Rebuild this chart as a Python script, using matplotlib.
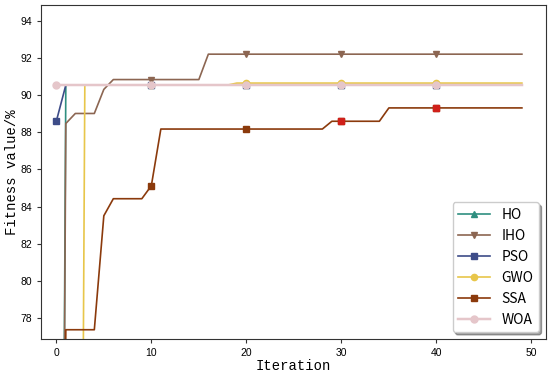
import matplotlib.pyplot as plt

# Data (iterations 0..49)
iterations = list(range(50))

ho = [0.0, 90.55, 90.55, 90.55, 90.55, 90.55, 90.55, 90.55, 90.55, 90.55,
      90.55, 90.55, 90.55, 90.55, 90.55, 90.55, 90.55, 90.55, 90.55, 90.55,
      90.55, 90.55, 90.55, 90.55, 90.55, 90.55, 90.55, 90.55, 90.55, 90.55,
      90.55, 90.55, 90.55, 90.55, 90.55, 90.55, 90.55, 90.55, 90.55, 90.55,
      90.55, 90.55, 90.55, 90.55, 90.55, 90.55, 90.55, 90.55, 90.55, 90.55]
iho = [0.0, 88.48, 89.02, 89.02, 89.02, 90.32, 90.85, 90.85, 90.85, 90.85,
       90.85, 90.85, 90.85, 90.85, 90.85, 90.85, 92.22, 92.22, 92.22, 92.22,
       92.22, 92.22, 92.22, 92.22, 92.22, 92.22, 92.22, 92.22, 92.22, 92.22,
       92.22, 92.22, 92.22, 92.22, 92.22, 92.22, 92.22, 92.22, 92.22, 92.22,
       92.22, 92.22, 92.22, 92.22, 92.22, 92.22, 92.22, 92.22, 92.22, 92.22]
pso = [88.6, 90.55, 90.55, 90.55, 90.55, 90.55, 90.55, 90.55, 90.55, 90.55,
       90.55, 90.55, 90.55, 90.55, 90.55, 90.55, 90.55, 90.55, 90.55, 90.55,
       90.55, 90.55, 90.55, 90.55, 90.55, 90.55, 90.55, 90.55, 90.55, 90.55,
       90.55, 90.55, 90.55, 90.55, 90.55, 90.55, 90.55, 90.55, 90.55, 90.55,
       90.55, 90.55, 90.55, 90.55, 90.55, 90.55, 90.55, 90.55, 90.55, 90.55]
gwo = [0.0, 0.0, 0.0, 90.55, 90.55, 90.55, 90.55, 90.55, 90.55, 90.55,
       90.55, 90.55, 90.55, 90.55, 90.55, 90.55, 90.55, 90.55, 90.55, 90.66,
       90.66, 90.66, 90.66, 90.66, 90.66, 90.66, 90.66, 90.66, 90.66, 90.66,
       90.66, 90.66, 90.66, 90.66, 90.66, 90.66, 90.66, 90.66, 90.66, 90.66,
       90.66, 90.66, 90.66, 90.66, 90.66, 90.66, 90.66, 90.66, 90.66, 90.66]
ssa = [0.0, 77.35, 77.35, 77.35, 77.35, 83.5, 84.42, 84.42, 84.42, 84.42,
       85.12, 88.18, 88.18, 88.18, 88.18, 88.18, 88.18, 88.18, 88.18, 88.18,
       88.18, 88.18, 88.18, 88.18, 88.18, 88.18, 88.18, 88.18, 88.18, 88.6,
       88.6, 88.6, 88.6, 88.6, 88.6, 89.32, 89.32, 89.32, 89.32, 89.32,
       89.32, 89.32, 89.32, 89.32, 89.32, 89.32, 89.32, 89.32, 89.32, 89.32]
woa = [90.55, 90.55, 90.55, 90.55, 90.55, 90.55, 90.55, 90.55, 90.55, 90.55,
       90.55, 90.55, 90.55, 90.55, 90.55, 90.55, 90.55, 90.55, 90.55, 90.55,
       90.55, 90.55, 90.55, 90.55, 90.55, 90.55, 90.55, 90.55, 90.55, 90.55,
       90.55, 90.55, 90.55, 90.55, 90.55, 90.55, 90.55, 90.55, 90.55, 90.55,
       90.55, 90.55, 90.55, 90.55, 90.55, 90.55, 90.55, 90.55, 90.55, 90.55]

fig = plt.figure(figsize=(5.5, 3.76), dpi=100)
ax = fig.add_axes([0.0751, 0.0984, 0.917, 0.8896])

lw = 1.2
ms = 4.5
ax.plot(iterations, ho, color='#2f8f80', marker='^', markevery=10, lw=lw, ms=ms, label='HO')
ax.plot(iterations, iho, color='#8c6652', marker='v', markevery=10, lw=lw, ms=ms, label='IHO')
ax.plot(iterations, pso, color='#3d4c88', marker='s', markevery=10, lw=lw, ms=ms + 0.5, label='PSO')
ax.plot(iterations, gwo, color='#e8c64a', marker='o', markevery=10, lw=lw, ms=ms, label='GWO')
ax.plot(iterations, ssa, color='#8b3a0c', marker='s', markevery=10, lw=lw, ms=ms + 0.5, label='SSA')
# later SSA markers appear red in the reference
ax.plot(iterations[30::10], ssa[30::10], ls='none', marker='s', ms=ms + 0.5,
        color='#d0201a')
ax.plot(iterations, woa, color='#e5c6ca', marker='o', markevery=10, lw=lw + 0.6, ms=ms + 0.5, label='WOA')

ax.set_xlim(-1.58, 51.5)
ax.set_ylim(76.85, 94.9)
ax.set_xticks([0, 10, 20, 30, 40, 50])
ax.set_yticks([78, 80, 82, 84, 86, 88, 90, 92, 94])
ax.tick_params(labelsize=7.5, length=3, color='#333333')
for lab in ax.get_xticklabels() + ax.get_yticklabels():
    lab.set_family('Liberation Sans')
for sp in ax.spines.values():
    sp.set_color('#333333')

ax.set_xlabel('Iteration', family='Liberation Mono', fontsize=10, labelpad=1)
ax.set_ylabel('Fitness value/%', family='Liberation Mono', fontsize=10, labelpad=1)

leg = ax.legend(loc='lower right', shadow=True, fancybox=True, framealpha=1,
                handlelength=2.3,
                prop={'family': 'Noto Sans CJK SC', 'size': 10, 'weight': 'medium'})

fig.savefig('out.png', dpi=100)
